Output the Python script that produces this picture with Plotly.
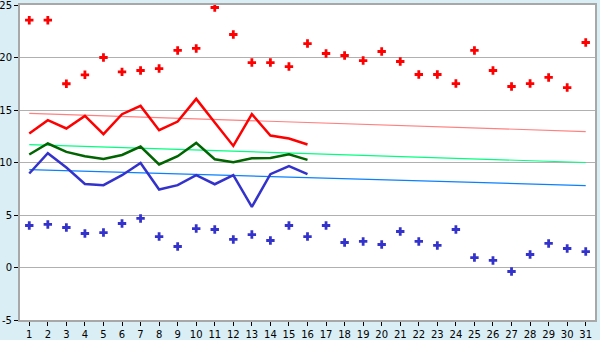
import plotly.graph_objects as go

days = list(range(1, 32))
days16 = list(range(1, 17))
y_ticks = [-5, 0, 5, 10, 15, 20, 25]
y_tick_text = ["-5", "0", "5", "10", "15", "20", "25"]

max_pts = [23.55, 23.55, 17.5, 18.35, 20.0, 18.63, 18.76, 18.95, 20.67, 20.86,
           24.76, 22.19, 19.52, 19.52, 19.14, 21.33, 20.38, 20.19, 19.71, 20.57,
           19.62, 18.38, 18.38, 17.52, 20.67, 18.76, 17.24, 17.52, 18.1, 17.14, 21.43]
min_pts = [4.0, 4.1, 3.81, 3.24, 3.33, 4.19, 4.67, 2.95, 2.0, 3.71,
           3.62, 2.67, 3.14, 2.57, 4.0, 2.95, 4.0, 2.38, 2.48, 2.19,
           3.43, 2.48, 2.1, 3.62, 0.95, 0.67, -0.38, 1.24, 2.29, 1.81, 1.52]

max_line = [12.76, 14.03, 13.24, 14.44, 12.7, 14.6, 15.39, 13.08, 13.9, 16.06,
            13.8, 11.58, 14.6, 12.57, 12.29, 11.71]
mean_line = [10.76, 11.81, 11.01, 10.6, 10.34, 10.72, 11.52, 9.81, 10.6, 11.87,
             10.31, 10.03, 10.41, 10.44, 10.79, 10.25]
min_line = [8.95, 10.89, 9.52, 7.96, 7.84, 8.79, 9.96, 7.43, 7.84, 8.79,
            7.93, 8.79, 5.77, 8.89, 9.65, 8.89]

trend_x = [1, 31]
trend_max = [14.67, 12.95]
trend_mean = [11.71, 10.0]
trend_min = [9.33, 7.8]

fig = go.Figure()
fig.add_trace(go.Scatter(x=trend_x, y=trend_max, mode="lines",
                         line=dict(color="#ff8080", width=1.2)))
fig.add_trace(go.Scatter(x=trend_x, y=trend_mean, mode="lines",
                         line=dict(color="#00ff80", width=1.2)))
fig.add_trace(go.Scatter(x=trend_x, y=trend_min, mode="lines",
                         line=dict(color="#0a80ff", width=1.2)))
fig.add_trace(go.Scatter(x=days16, y=max_line, mode="lines",
                         line=dict(color="#ff0000", width=2.5)))
fig.add_trace(go.Scatter(x=days16, y=mean_line, mode="lines",
                         line=dict(color="#006400", width=2.5)))
fig.add_trace(go.Scatter(x=days16, y=min_line, mode="lines",
                         line=dict(color="#3333cc", width=2.5)))
fig.add_trace(go.Scatter(x=days, y=max_pts, mode="markers",
                         marker=dict(color="#ff0000", symbol="cross", size=7,
                                     line=dict(width=0))))
fig.add_trace(go.Scatter(x=days, y=min_pts, mode="markers",
                         marker=dict(color="#3333cc", symbol="cross", size=7,
                                     line=dict(width=0))))

fig.update_layout(
    width=600, height=340,
    margin=dict(l=20, r=5, t=5, b=20),
    paper_bgcolor="#d9eef5",
    plot_bgcolor="#ffffff",
    showlegend=False,
    font=dict(family="DejaVu Sans", size=10, color="#000000"),
)
fig.update_xaxes(range=[0.5, 31.5], tickmode="array", tickvals=days,
                 ticktext=[str(d) for d in days], automargin=False,
                 ticklabeloverflow="allow",
                 showgrid=False, zeroline=False,
                 showline=True, linecolor="#a8a8a8", linewidth=2, mirror=True,
                 ticks="outside", ticklen=4, tickcolor="#000000", tickwidth=1)
fig.update_yaxes(range=[-5, 25], tickmode="array", tickvals=y_ticks,
                 ticktext=y_tick_text, automargin=False,
                 ticklabeloverflow="allow",
                 showgrid=True, gridcolor="#b0b0b0", gridwidth=1, zeroline=False,
                 showline=True, linecolor="#a8a8a8", linewidth=2, mirror=True,
                 ticks="outside", ticklen=4, tickcolor="#000000", tickwidth=1)

fig.write_html("out.html", config={"displayModeBar": False},
               post_script="document.body.style.margin='0';document.body.style.background='#d9eef5';")
